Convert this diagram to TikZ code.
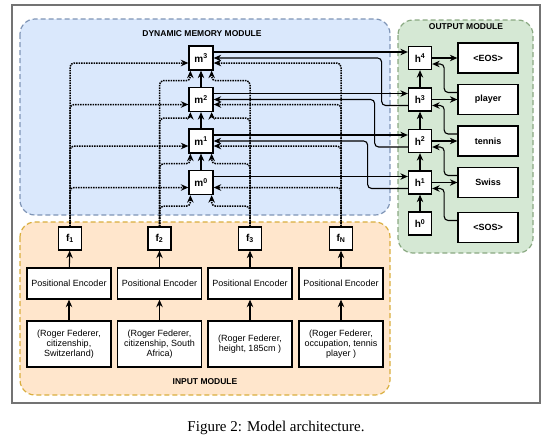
\documentclass[tikz,border=0pt]{standalone}
\usepackage{fontspec}
\setmainfont{Liberation Serif}
\newfontfamily\diagfont{Liberation Sans}
\usepackage{xcolor}
\usepackage{tikz}
\usetikzlibrary{arrows.meta}
\usetikzlibrary{calc}
\definecolor{mem_fill}{HTML}{DAE8FC}
\definecolor{mem_line}{HTML}{7F95B6}
\definecolor{out_fill}{HTML}{D5E8D4}
\definecolor{out_line}{HTML}{8AA982}
\definecolor{in_fill}{HTML}{FFE6CC}
\definecolor{in_line}{HTML}{D9AE3E}
\tikzset{ module/.style = {rounded corners=15pt, dash pattern=on 5pt off 3pt, line width=1.2pt} }
\tikzset{ cell/.style = {rectangle, draw, fill=white, line width=1.3pt, minimum size=24pt, inner sep=0pt, font=\diagfont\fontsize{10}{11}\selectfont\bfseries} }
\tikzset{ word/.style = {rectangle, draw, fill=white, line width=1.3pt, minimum width=60pt, minimum height=30pt, font=\diagfont\fontsize{9}{10}\selectfont\bfseries} }
\tikzset{ enc/.style = {rectangle, draw, fill=white, line width=1.3pt, minimum width=84pt, minimum height=31pt, font=\diagfont\fontsize{9}{10}\selectfont} }
\tikzset{ triple/.style = {rectangle, draw, fill=white, line width=1.3pt, minimum width=84pt, minimum height=46pt, align=center, font=\diagfont\fontsize{9}{10}\selectfont} }
\tikzset{ mod_title/.style = {font=\diagfont\fontsize{8.5}{10}\selectfont\bfseries} }
\tikzset{ solid_arr/.style = {-{Stealth[length=7.5pt,width=6.5pt]}, line width=1.1pt, rounded corners=4pt} }
\tikzset{ dot_arr/.style = {-{Stealth[length=7.5pt,width=6.5pt]}, line width=1.5pt, densely dotted, rounded corners=4pt} }

\begin{document}
\begin{tikzpicture}[x=1pt, y=-1pt]
        \useasboundingbox (0,0) rectangle (545,440);
        \draw[line width=1.5pt, black!55] (12,5) rectangle (540,403);
        % modules
        \draw[module, draw=mem_line, fill=mem_fill] (20,19) rectangle (390,215);
        \draw[module, draw=in_line, fill=in_fill] (20,222) rectangle (390,395);
        \draw[module, draw=out_line, fill=out_fill] (398,20) rectangle (533,253);
        \node[mod_title] (mem_title) at (202,34) {DYNAMIC MEMORY MODULE};
        \node[mod_title] (out_title) at (466,27) {OUTPUT MODULE};
        \node[mod_title] (in_title) at (205,382) {INPUT MODULE};
        % memory cells
        \node[cell] (m3) at (201,58) {m\textsuperscript{3}};
        \node[cell] (m2) at (201,99.5) {m\textsuperscript{2}};
        \node[cell] (m1) at (201,141) {m\textsuperscript{1}};
        \node[cell] (m0) at (201,182.5) {m\textsuperscript{0}};
        % output cells
        \node[cell, minimum size=23pt] (h4) at (420,58) {h\textsuperscript{4}};
        \node[cell, minimum size=23pt] (h3) at (420,99.5) {h\textsuperscript{3}};
        \node[cell, minimum size=23pt] (h2) at (420,141) {h\textsuperscript{2}};
        \node[cell, minimum size=23pt] (h1) at (420,182.5) {h\textsuperscript{1}};
        \node[cell, minimum size=23pt] (h0) at (420,223.5) {h\textsuperscript{0}};
        \node[word] (eos) at (488,58) {<EOS>};
        \node[word] (player) at (488,99.5) {player};
        \node[word] (tennis) at (488,141) {tennis};
        \node[word] (swiss) at (488,182.5) {Swiss};
        \node[word] (sos) at (488,227.5) {<SOS>};
        % input facts
        \node[cell, minimum size=23pt] (f1) at (70,238.5) {f\textsubscript{1}};
        \node[cell, minimum size=23pt] (f2) at (159.5,238.5) {f\textsubscript{2}};
        \node[cell, minimum size=23pt] (f3) at (250,238.5) {f\textsubscript{3}};
        \node[cell, minimum size=23pt] (fN) at (341,238.5) {f\textsubscript{N}};
        \node[enc] (p1) at (69,283.5) {Positional Encoder};
        \node[enc] (p2) at (159.5,283.5) {Positional Encoder};
        \node[enc] (p3) at (250,283.5) {Positional Encoder};
        \node[enc] (p4) at (341,283.5) {Positional Encoder};
        \node[triple] (t1) at (69,344) {(Roger Federer,\\citizenship,\\Switzerland)};
        \node[triple] (t2) at (159.5,344) {(Roger Federer,\\citizenship, South\\Africa)};
        \node[triple] (t3) at (250,344) {(Roger Federer,\\height, 185cm )};
        \node[triple] (t4) at (341,344) {(Roger Federer,\\occupation, tennis\\player )};
        % input chain
        \draw[solid_arr] (t1) -- (p1);
        \draw[solid_arr] (t2) -- (p2);
        \draw[solid_arr] (t3) -- (p3);
        \draw[solid_arr] (t4) -- (p4);
        \draw[solid_arr] (p1) -- (f1);
        \draw[solid_arr] (p2) -- (f2);
        \draw[solid_arr] (p3) -- (f3);
        \draw[solid_arr] (p4) -- (fN);
        % facts into memory
        \draw[dot_arr] (f1.north) |- ([yshift=-5pt]m3.west);
        \draw[dot_arr] (f1.north) |- ([yshift=-5pt]m2.west);
        \draw[dot_arr] (f1.north) |- ([yshift=-5pt]m1.west);
        \draw[dot_arr] (f1.north) |- ([yshift=-5pt]m0.west);
        \draw[dot_arr] (fN.north) |- ([yshift=-5pt]m3.east);
        \draw[dot_arr] (fN.north) |- ([yshift=-5pt]m2.east);
        \draw[dot_arr] (fN.north) |- ([yshift=-5pt]m1.east);
        \draw[dot_arr] (fN.north) |- ([yshift=-5pt]m0.east);
        \draw[dot_arr] (f2.north) |- ([xshift=2pt,yshift=-10pt]m3.south west) -- ([xshift=2pt]m3.south west);
        \draw[dot_arr] (f2.north) |- ([xshift=2pt,yshift=-6pt]m2.south west) -- ([xshift=2pt]m2.south west);
        \draw[dot_arr] (f2.north) |- ([xshift=2pt,yshift=-10pt]m1.south west) -- ([xshift=2pt]m1.south west);
        \draw[dot_arr] (f2.north) |- ([xshift=2pt,yshift=-11pt]m0.south west) -- ([xshift=2pt]m0.south west);
        \draw[dot_arr] (f3.north) |- ([xshift=-2pt,yshift=-10pt]m3.south east) -- ([xshift=-2pt]m3.south east);
        \draw[dot_arr] (f3.north) |- ([xshift=-2pt,yshift=-6pt]m2.south east) -- ([xshift=-2pt]m2.south east);
        \draw[dot_arr] (f3.north) |- ([xshift=-2pt,yshift=-10pt]m1.south east) -- ([xshift=-2pt]m1.south east);
        \draw[dot_arr] (f3.north) |- ([xshift=-2pt,yshift=-11pt]m0.south east) -- ([xshift=-2pt]m0.south east);
        % memory chain
        \draw[solid_arr] (m0) -- (m1);
        \draw[solid_arr] (m1) -- (m2);
        \draw[solid_arr] (m2) -- (m3);
        % memory to decoder and back
        \draw[solid_arr] ([yshift=6pt]m3.east) -- ([yshift=6pt]h4.west);
        \draw[solid_arr] ([yshift=6pt]m2.east) -- ([yshift=6pt]h3.west);
        \draw[solid_arr] ([yshift=6pt]m1.east) -- ([yshift=6pt]h2.west);
        \draw[solid_arr] ([yshift=6pt]m0.east) -- ([yshift=6pt]h1.west);
        \draw[solid_arr] ([yshift=-6pt]h3.west) -| ([xshift=168pt]m3.east) -- (m3.east);
        \draw[solid_arr] ([yshift=-6pt]h2.west) -| ([xshift=161pt]m2.east) -- (m2.east);
        \draw[solid_arr] ([yshift=-6pt]h1.west) -| ([xshift=154pt]m1.east) -- (m1.east);
        % decoder
        \draw[solid_arr] (h0) -- (h1);
        \draw[solid_arr] (h1) -- (h2);
        \draw[solid_arr] (h2) -- (h3);
        \draw[solid_arr] (h3) -- (h4);
        \draw[solid_arr] (h4) -- (eos);
        \draw[solid_arr] (h3) -- (player);
        \draw[solid_arr] (h2) -- (tennis);
        \draw[solid_arr] (h1) -- (swiss);
        \draw[solid_arr] ([yshift=7pt]player.west) -| ([xshift=12pt,yshift=-6pt]h4.east) -- ([yshift=-6pt]h4.east);
        \draw[solid_arr] ([yshift=7pt]tennis.west) -| ([xshift=12pt,yshift=-6pt]h3.east) -- ([yshift=-6pt]h3.east);
        \draw[solid_arr] ([yshift=7pt]swiss.west) -| ([xshift=12pt,yshift=-6pt]h2.east) -- ([yshift=-6pt]h2.east);
        \draw[solid_arr] ([yshift=7pt]sos.west) -| ([xshift=12pt,yshift=-6pt]h1.east) -- ([yshift=-6pt]h1.east);
        % caption
        \node[font=\fontsize{15}{18}\selectfont] (caption) at (276,428) {Figure 2: Model architecture.};
    \end{tikzpicture}
\end{document}
